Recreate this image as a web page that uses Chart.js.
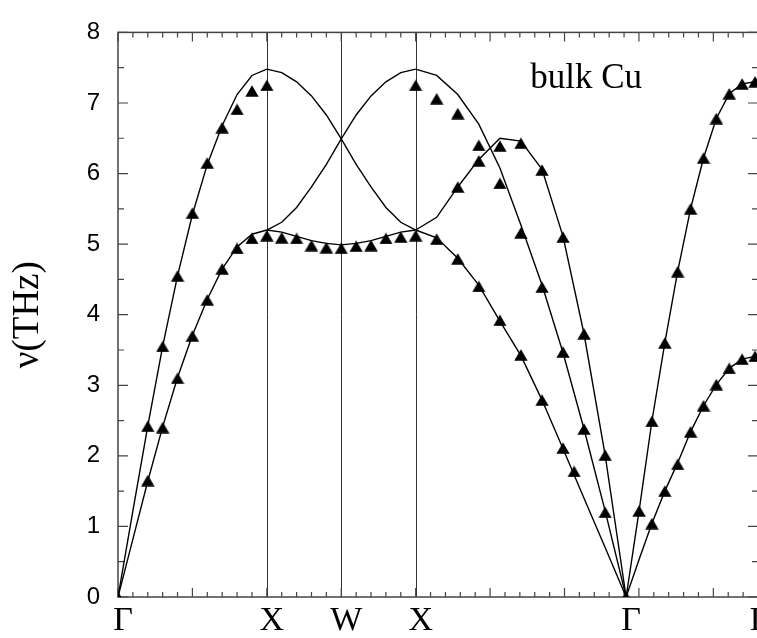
<!DOCTYPE html>
<html><head><meta charset="utf-8">
<script src="https://cdn.jsdelivr.net/npm/chart.js@4/dist/chart.umd.min.js"></script>
<style>html,body{margin:0;padding:0;background:#fff;overflow:hidden}canvas{display:block}</style>
</head><body><canvas id="c" width="800" height="638"></canvas>
<script>
// ---- path positions (k along Γ-X-W-X-Γ-L) ----
const K_GX  = [0.0, 0.1, 0.2, 0.3, 0.4, 0.5, 0.6, 0.7, 0.8, 0.9, 1.0];
const K_XWX = [1.0, 1.1, 1.2, 1.3, 1.4, 1.5, 1.6, 1.7, 1.8, 1.9, 2.0];
const K_XG  = [2.0, 2.141, 2.283, 2.424, 2.566, 2.707, 2.849, 2.990, 3.131, 3.273, 3.414];
const K_GL  = [3.414, 3.501, 3.587, 3.674, 3.760, 3.847, 3.934, 4.020, 4.107, 4.193, 4.280];

// ---- symmetry points / tick labels ----
const SYM_LABELS = ['Γ', 'X', 'W', 'X', 'Γ', 'L'];
const SYM_POS    = [0, 1, 1.5, 2, 3.414, 4.28];
const SYM_LINES  = [1, 1.5, 2];
const Y_TICKS    = [0, 1, 2, 3, 4, 5, 6, 7, 8];

// ---- theory curves (THz) ----
const TH_GX_L  = [0, 1.22, 2.42, 3.55, 4.55, 5.42, 6.13, 6.68, 7.12, 7.39, 7.48];
const TH_GX_T  = [0, 0.82, 1.64, 2.41, 3.11, 3.71, 4.22, 4.65, 4.96, 5.14, 5.20];
const TH_XWX_A = [7.48, 7.43, 7.30, 7.10, 6.83, 6.49, 6.13, 5.81, 5.52, 5.31, 5.20];
const TH_XWX_B = [5.20, 5.31, 5.52, 5.81, 6.13, 6.49, 6.83, 7.10, 7.30, 7.43, 7.48];
const TH_XWX_C = [5.20, 5.17, 5.11, 5.05, 5.01, 4.99, 5.01, 5.05, 5.11, 5.17, 5.20];
const TH_XG_A  = [7.48, 7.39, 7.12, 6.70, 6.08, 5.27, 4.42, 3.46, 2.38, 1.22, 0];
const TH_XG_B  = [5.20, 5.38, 5.81, 6.20, 6.50, 6.46, 6.06, 5.11, 3.73, 2.01, 0];
const TH_XG_C  = [5.20, 5.09, 4.80, 4.42, 3.91, 3.42, 2.79, 2.10, 1.40, 0.70, 0];
const TH_GL_U  = [0, 1.22, 2.49, 3.60, 4.61, 5.50, 6.22, 6.78, 7.13, 7.27, 7.30];
const TH_GL_L  = [0, 0.53, 1.04, 1.50, 1.90, 2.34, 2.71, 3.01, 3.24, 3.37, 3.41];

// ---- experiment (triangles) ----
const EXP_G_K    = [0, 3.414];
const EXP_G      = [0, 0];
const EXP_GX_K   = [0.2, 0.3, 0.4, 0.5, 0.6, 0.7, 0.8, 0.9, 1.0];
const EXP_GX_L   = [2.42, 3.55, 4.55, 5.44, 6.15, 6.65, 6.91, 7.17, 7.25];
const EXP_GX_T   = [1.65, 2.40, 3.10, 3.70, 4.21, 4.65, 4.94, 5.08, 5.12];
const EXP_XWX_K  = [1.1, 1.2, 1.3, 1.4, 1.5, 1.6, 1.7, 1.8, 1.9];
const EXP_XWX_T  = [5.09, 5.08, 4.98, 4.95, 4.94, 4.97, 4.98, 5.08, 5.10];
const EXP_XG_A_K = [2.0, 2.141, 2.283, 2.424, 2.566, 2.707, 2.849, 2.990, 3.131, 3.273];
const EXP_XG_A   = [7.25, 7.06, 6.85, 6.40, 5.86, 5.16, 4.39, 3.47, 2.38, 1.20];
const EXP_XG_B_K = [2.283, 2.424, 2.566, 2.707, 2.849, 2.990, 3.131, 3.273];
const EXP_XG_B   = [5.81, 6.18, 6.39, 6.43, 6.05, 5.10, 3.73, 2.01];
const EXP_XG_C_K = [2.0, 2.141, 2.283, 2.424, 2.566, 2.707, 2.849, 2.990, 3.065];
const EXP_XG_C   = [5.12, 5.07, 4.79, 4.40, 3.92, 3.43, 2.79, 2.11, 1.78];
const EXP_GL_U_K = [3.501, 3.587, 3.674, 3.760, 3.847, 3.934, 4.020, 4.107, 4.193, 4.280];
const EXP_GL_U   = [1.22, 2.49, 3.60, 4.61, 5.50, 6.22, 6.78, 7.13, 7.27, 7.30];
const EXP_GL_L_K = [3.587, 3.674, 3.760, 3.847, 3.934, 4.020, 4.107, 4.193, 4.280];
const EXP_GL_L   = [1.04, 1.50, 1.88, 2.34, 2.71, 3.01, 3.24, 3.37, 3.41];

const ANNOT_TEXT = 'bulk Cu';
const ANNOT_K = 2.77, ANNOT_NU = 7.21;

const pts = (ks, vs) => ks.map((k, i) => ({x: k, y: vs[i]}));

// triangle marker image (centred on its bounding box)
const tri = document.createElement('canvas');
tri.width = 14; tri.height = 12;
{
  const t = tri.getContext('2d');
  t.fillStyle = '#000';
  t.beginPath(); t.moveTo(0.3, 11.7); t.lineTo(7, 0.3); t.lineTo(13.7, 11.7); t.closePath(); t.fill();
}

const theory = [
  [K_GX, TH_GX_L], [K_GX, TH_GX_T],
  [K_XWX, TH_XWX_A], [K_XWX, TH_XWX_B], [K_XWX, TH_XWX_C],
  [K_XG, TH_XG_A], [K_XG, TH_XG_B], [K_XG, TH_XG_C],
  [K_GL, TH_GL_U], [K_GL, TH_GL_L]
];
const exper = [
  [EXP_G_K, EXP_G], [EXP_GX_K, EXP_GX_L], [EXP_GX_K, EXP_GX_T], [EXP_XWX_K, EXP_XWX_T],
  [EXP_XG_A_K, EXP_XG_A], [EXP_XG_B_K, EXP_XG_B], [EXP_XG_C_K, EXP_XG_C],
  [EXP_GL_U_K, EXP_GL_U], [EXP_GL_L_K, EXP_GL_L]
];

const datasets = [];
exper.forEach(([k, v]) => datasets.push({
  data: pts(k, v), showLine: false, pointStyle: tri, pointRadius: 7, order: 0
}));
theory.forEach(([k, v]) => datasets.push({
  data: pts(k, v), showLine: true, borderColor: '#000', borderWidth: 1.4,
  pointRadius: 0, tension: 0, order: 1
}));

const framePlugin = {
  id: 'frame',
  beforeDatasetsDraw(chart) {
    const {ctx, chartArea: a, scales: {x, y}} = chart;
    ctx.save();
    ctx.strokeStyle = '#333'; ctx.lineWidth = 1;
    SYM_LINES.forEach(k => {
      const px = Math.round(x.getPixelForValue(k)) + 0.5;
      ctx.beginPath(); ctx.moveTo(px, a.top); ctx.lineTo(px, a.bottom); ctx.stroke();
    });
    ctx.strokeStyle = '#444'; ctx.lineWidth = 1.5;
    ctx.strokeRect(a.left, a.top, a.right - a.left, a.bottom - a.top);
    ctx.lineWidth = 1.2;
    ctx.beginPath();
    for (let i = 0; i <= Math.round(x.max * 10); i++) {
      const v = i / 10, px = x.getPixelForValue(v);
      const len = (i % 5 === 0) ? 9 : 5;
      ctx.moveTo(px, a.bottom); ctx.lineTo(px, a.bottom - len);
      ctx.moveTo(px, a.top); ctx.lineTo(px, a.top + len);
    }
    for (let i = 0; i <= 16; i++) {
      const v = i / 2, py = y.getPixelForValue(v);
      const len = (i % 2 === 0) ? 10 : 6;
      ctx.moveTo(a.left, py); ctx.lineTo(a.left + len, py);
      ctx.moveTo(a.right, py); ctx.lineTo(a.right - len, py);
    }
    ctx.stroke();
    ctx.restore();
  },
  afterDraw(chart) {
    const {ctx, scales: {x, y}} = chart;
    ctx.save();
    ctx.fillStyle = '#000';
    ctx.font = '35px "Liberation Serif"';
    ctx.textAlign = 'left'; ctx.textBaseline = 'alphabetic';
    ctx.fillText(ANNOT_TEXT, x.getPixelForValue(ANNOT_K), y.getPixelForValue(ANNOT_NU));
    ctx.restore();
  }
};

new Chart(document.getElementById('c'), {
  type: 'scatter',
  data: {datasets},
  options: {
    responsive: false, animation: false,
    layout: {padding: {top: 17, right: 42, bottom: 0, left: 0}},
    plugins: {legend: {display: false}, tooltip: {enabled: false}},
    scales: {
      x: {
        type: 'linear', min: 0, max: 4.3,
        grid: {display: false, drawTicks: false}, border: {display: false},
        afterBuildTicks: s => { s.ticks = SYM_POS.map(v => ({value: v})); },
        afterFit: s => { s.height = 41; },
        ticks: {
          autoSkip: false, maxRotation: 0, padding: 4, labelOffset: 5, color: '#000',
          font: {family: 'Liberation Serif', size: 34},
          callback: (v, i) => SYM_LABELS[i]
        }
      },
      y: {
        type: 'linear', min: 0, max: 8,
        grid: {display: false, drawTicks: false}, border: {display: false},
        afterBuildTicks: s => { s.ticks = Y_TICKS.map(v => ({value: v})); },
        afterFit: s => { s.width = 118; },
        ticks: {padding: 18, color: '#000', font: {family: 'Liberation Sans', size: 24}},
        title: {display: true, text: 'ν(THz)', color: '#000',
          font: {family: 'Liberation Serif', size: 37}, padding: {top: 6, bottom: 0}}
      }
    }
  },
  plugins: [framePlugin]
});
</script>
</body></html>
